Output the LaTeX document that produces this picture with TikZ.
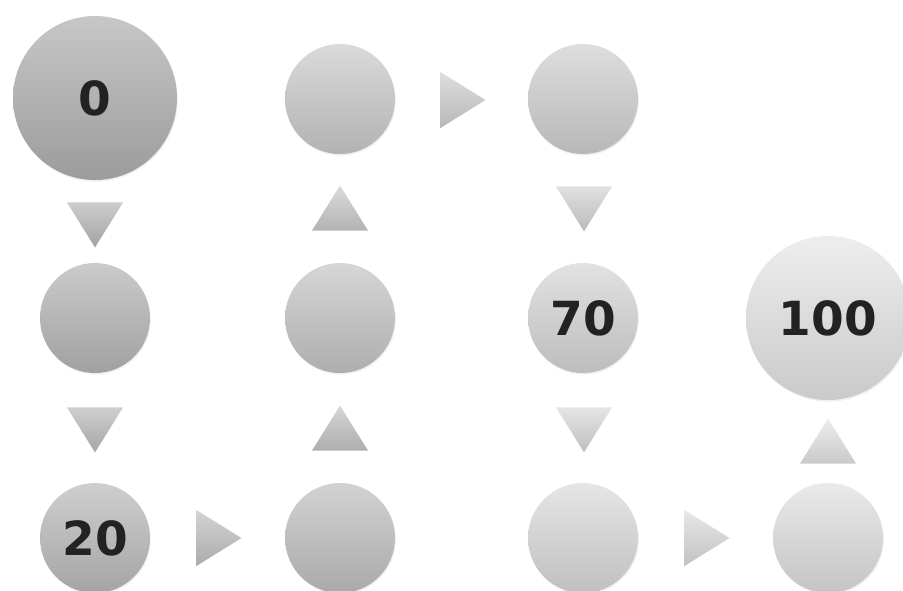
\documentclass[tikz,border=0pt]{standalone}
\usepackage{fontspec}
\setsansfont{DejaVu Sans}
\usepackage{tikz}
\usetikzlibrary{shapes.geometric,shadows}
\definecolor{digitInk}{HTML}{222222}

\begin{document}
\begin{tikzpicture}[
        x=0.5pt,y=-0.5pt,
        every node/.style={font=\sffamily\bfseries\fontsize{23.5}{26}\selectfont,text=digitInk},
        ball/.style 2 args={circle,minimum size=55pt,inner sep=0pt,
                    top color=black!#1,bottom color=black!#2,
                    drop shadow={opacity=0.12,shadow xshift=0.4pt,shadow yshift=-0.8pt}},
        bigball/.style 2 args={ball={#1}{#2},minimum size=82pt},
        tri/.style={isosceles triangle,isosceles triangle stretches,inner sep=0pt,
                    minimum height=22.5pt,minimum width=28pt},
        down/.style 2 args={tri,shape border rotate=270,top color=black!#1,bottom color=black!#2},
        up/.style 2 args={tri,shape border rotate=90,top color=black!#1,bottom color=black!#2},
        rgt/.style 2 args={tri,shape border rotate=0,top color=black!#1,bottom color=black!#2}
      ]
        \useasboundingbox (0,0) rectangle (903,590);
        % circles along the path
        \node[bigball={22}{39}] (s0) at (95,98) {0};
        \node[ball={20.5}{37}] (s1) at (95,318) {};
        \node[ball={19}{35.5}] (s20) at (95,538) {20};
        \node[ball={17.5}{33.5}] (s3) at (340,538) {};
        \node[ball={16}{32}] (s4) at (340,318) {};
        \node[ball={14.5}{30}] (s5) at (340,99) {};
        \node[ball={13}{28}] (s6) at (583,99) {};
        \node[ball={11.5}{26}] (s70) at (583,318) {70};
        \node[ball={10}{25}] (s8) at (583,538) {};
        \node[ball={8.5}{23}] (s9) at (828,538) {};
        \node[bigball={7}{21}] (s100) at (828,318) {100};
        % triangles between them
        \node[down={20}{36}] (a1) at (95,218) {};
        \node[down={19}{35}] (a2) at (95,423) {};
        \node[rgt={17}{33}] (a3) at (212,538) {};
        \node[up={16}{32}] (a4) at (340,435) {};
        \node[up={14}{30}] (a5) at (340,215) {};
        \node[rgt={13}{28}] (a6) at (456,100) {};
        \node[down={12}{27}] (a7) at (584,202) {};
        \node[down={10}{25}] (a8) at (584,423) {};
        \node[rgt={9}{24}] (a9) at (700,538) {};
        \node[up={7}{21}] (a10) at (828,448) {};
      \end{tikzpicture}
\end{document}
